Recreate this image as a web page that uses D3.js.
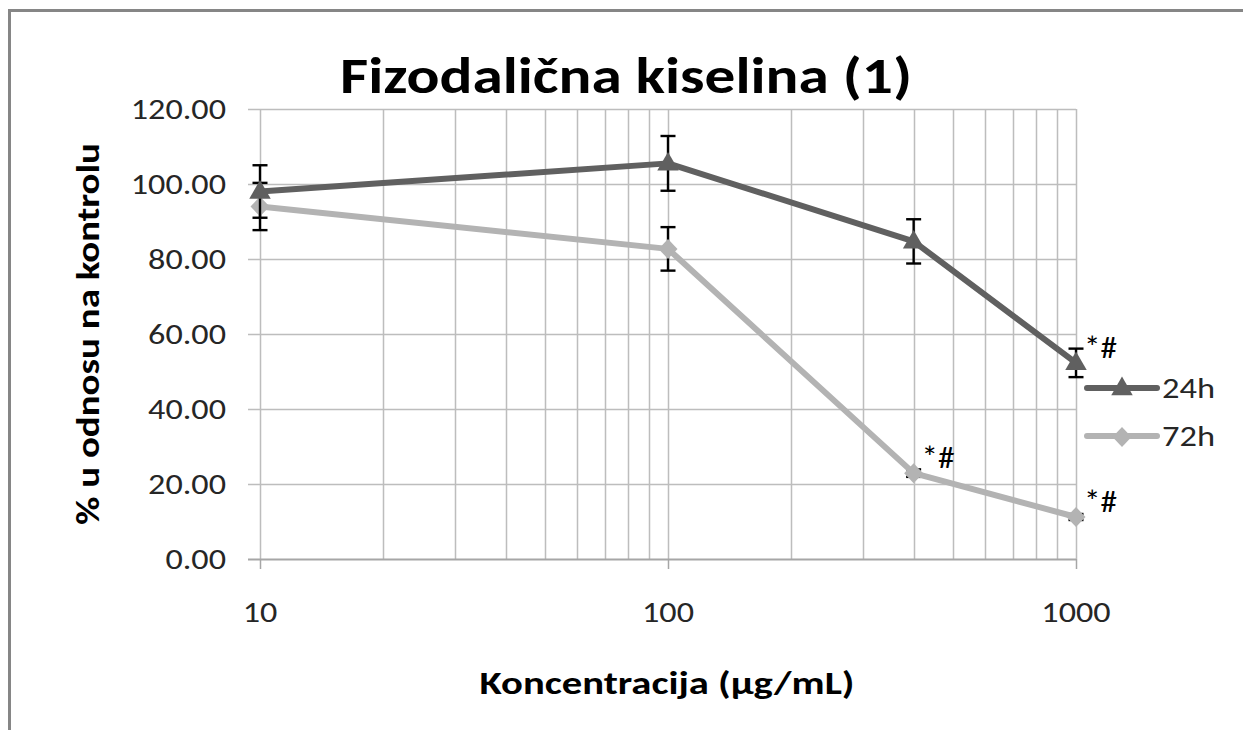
<!DOCTYPE html>
<html>
<head>
<meta charset="utf-8">
<script src="https://cdn.jsdelivr.net/npm/d3@7"></script>
<style>
  html, body { margin: 0; padding: 0; background: #fff; }
  svg { display: block; }
  text { font-family: Carlito, Calibri, Lato, "Open Sans", sans-serif; }
</style>
</head>
<body>
<svg id="chart" width="1243" height="730"></svg>
<script>
// Concentrations (µg/mL) tested
const concentrations = [10, 100, 400, 1000];

// Viability relative to control (%), mean and error
const series24h = [98.0, 105.5, 84.7, 52.3];
const errors24h = [7.0, 7.3, 5.9, 3.8];
const series72h = [94.0, 82.7, 22.9, 11.2];
const errors72h = [6.3, 5.8, 1.0, 0.8];

// Significance markers (index of point in each series)
const marks24h = [3];
const marks72h = [2, 3];

const seriesNames = ["24h", "72h"];
const yTicks = [0, 20, 40, 60, 80, 100, 120];
const xTickLabels = [10, 100, 1000];

const titleText = "Fizodalična kiselina (1)";
const xTitle = "Koncentracija (µg/mL)";
const yTitle = "% u odnosu na kontrolu";

const svg = d3.select("#chart");
const W = 1243, H = 730;
const plot = { left: 260, right: 1076, top: 109, bottom: 559 };

const x = d3.scaleLog().domain([10, 1000]).range([plot.left, plot.right]);
const y = d3.scaleLinear().domain([0, 120]).range([plot.bottom, plot.top]);

// widen glyphs horizontally by factor k (the chart's text is set wide)
function widen(sel, k) {
  sel.each(function () {
    const w = this.getComputedTextLength();
    d3.select(this).attr("textLength", w * k).attr("lengthAdjust", "spacingAndGlyphs");
  });
}
function fitWidth(sel, target) {
  sel.attr("textLength", target).attr("lengthAdjust", "spacingAndGlyphs");
}

// chart frame
svg.append("rect")
  .attr("x", 9.5).attr("y", 10.5)
  .attr("width", W + 20).attr("height", H + 20)
  .attr("fill", "#fff").attr("stroke", "#868686").attr("stroke-width", 3);

const gridColor = "#bdbdbd";

// vertical log gridlines
const minorTicks = x.ticks();
svg.append("g").selectAll("line").data(minorTicks).join("line")
  .attr("x1", d => Math.round(x(d)) + 0.5).attr("x2", d => Math.round(x(d)) + 0.5)
  .attr("y1", plot.top).attr("y2", plot.bottom)
  .attr("stroke", gridColor).attr("stroke-width", 1.5);

// horizontal gridlines with outer tick stubs
svg.append("g").selectAll("line").data(yTicks).join("line")
  .attr("x1", plot.left - 12).attr("x2", plot.right)
  .attr("y1", d => Math.round(y(d)) + 0.5).attr("y2", d => Math.round(y(d)) + 0.5)
  .attr("stroke", d => d === 0 ? "#a6a6a6" : gridColor)
  .attr("stroke-width", d => d === 0 ? 2 : 1.5);

// x axis tick stubs at decades
svg.append("g").selectAll("line").data(xTickLabels).join("line")
  .attr("x1", d => Math.round(x(d)) + 0.5).attr("x2", d => Math.round(x(d)) + 0.5)
  .attr("y1", plot.bottom).attr("y2", plot.bottom + 10)
  .attr("stroke", "#a6a6a6").attr("stroke-width", 1.5);

const TICK_WIDEN = 1.22;

// y tick labels
svg.append("g").selectAll("text").data(yTicks).join("text")
  .attr("x", 226).attr("y", d => y(d) + 10)
  .attr("text-anchor", "end")
  .attr("font-size", 28).attr("fill", "#262626")
  .text(d => d.toFixed(2))
  .call(widen, TICK_WIDEN);

// x tick labels
svg.append("g").selectAll("text").data(xTickLabels).join("text")
  .attr("x", d => x(d)).attr("y", 622)
  .attr("text-anchor", "middle")
  .attr("font-size", 28).attr("fill", "#262626")
  .text(d => d)
  .call(widen, TICK_WIDEN);

// titles
svg.append("text")
  .attr("x", 626).attr("y", 93)
  .attr("text-anchor", "middle")
  .attr("font-size", 51).attr("font-weight", "bold").attr("fill", "#000")
  .text(titleText)
  .call(fitWidth, 572);

svg.append("text")
  .attr("x", 667).attr("y", 694)
  .attr("text-anchor", "middle")
  .attr("font-size", 33).attr("font-weight", "bold").attr("fill", "#000")
  .text(xTitle)
  .call(fitWidth, 375);

svg.append("text")
  .attr("transform", "translate(99,334) rotate(-90)")
  .attr("text-anchor", "middle")
  .attr("font-size", 33).attr("font-weight", "bold").attr("fill", "#000")
  .text(yTitle)
  .call(fitWidth, 382);

const colors = { "24h": "#606060", "72h": "#b3b3b3" };

const data24 = concentrations.map((c, i) => ({ c, v: series24h[i], e: errors24h[i] }));
const data72 = concentrations.map((c, i) => ({ c, v: series72h[i], e: errors72h[i] }));

const line = d3.line().x(d => x(d.c)).y(d => y(d.v));

function errorBars(data) {
  const g = svg.append("g").attr("stroke", "#000").attr("stroke-width", 2.4);
  data.forEach(d => {
    const cx = x(d.c);
    g.append("line").attr("x1", cx).attr("x2", cx).attr("y1", y(d.v + d.e)).attr("y2", y(d.v - d.e));
    [d.v + d.e, d.v - d.e].forEach(v => {
      g.append("line").attr("x1", cx - 7.5).attr("x2", cx + 7.5).attr("y1", y(v)).attr("y2", y(v));
    });
  });
}

const triangle = d3.symbol().type(d3.symbolTriangle).size(200);
const diamond = "M0,-10L9.5,0L0,10L-9.5,0Z";

// 72h series
errorBars(data72);
svg.append("path").datum(data72).attr("d", line)
  .attr("fill", "none").attr("stroke", colors["72h"]).attr("stroke-width", 6)
  .attr("stroke-linejoin", "round");
svg.append("g").selectAll("path").data(data72).join("path")
  .attr("transform", d => `translate(${x(d.c)},${y(d.v)})`)
  .attr("d", diamond).attr("fill", colors["72h"]);

// 24h series
errorBars(data24);
svg.append("path").datum(data24).attr("d", line)
  .attr("fill", "none").attr("stroke", colors["24h"]).attr("stroke-width", 6)
  .attr("stroke-linejoin", "round");
svg.append("g").selectAll("path").data(data24).join("path")
  .attr("transform", d => `translate(${x(d.c)},${y(d.v) + 1})`)
  .attr("d", triangle).attr("fill", colors["24h"]);

// significance labels, set just to the upper right of each point
function sigLabels(data, idx) {
  svg.append("g").selectAll("text").data(idx.map(i => data[i])).join("text")
    .attr("x", d => x(d.c) + 8).attr("y", d => y(d.v) - 5)
    .attr("font-size", 30).attr("fill", "#000")
    .text("*#")
    .call(fitWidth, 33);
}
sigLabels(data24, marks24h);
sigLabels(data72, marks72h);

// legend
const legend = svg.append("g");
seriesNames.forEach((name, i) => {
  const ly = 388 + i * 48;
  legend.append("line")
    .attr("x1", 1087).attr("x2", 1157).attr("y1", ly).attr("y2", ly)
    .attr("stroke", colors[name]).attr("stroke-width", 6).attr("stroke-linecap", "round");
  legend.append("path")
    .attr("transform", `translate(1122,${ly + 1})`)
    .attr("d", name === "24h" ? triangle() : diamond)
    .attr("fill", colors[name]);
  legend.append("text")
    .attr("x", 1162).attr("y", ly + 10)
    .attr("font-size", 28).attr("fill", "#262626")
    .text(name)
    .call(fitWidth, 53);
});
</script>
</body>
</html>
